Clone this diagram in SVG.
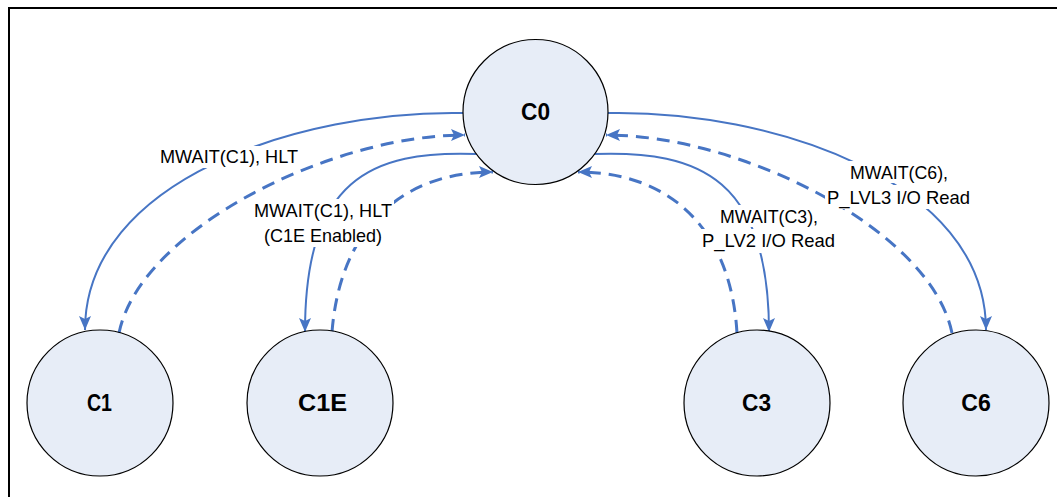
<svg xmlns="http://www.w3.org/2000/svg" width="1057" height="497" viewBox="0 0 1057 497">
<style>
.node{fill:#E7EDF7;stroke:#000;stroke-width:1.2}
.nl{font-family:"Liberation Sans",Arial,sans-serif;font-weight:bold;font-size:23px;text-anchor:middle;fill:#000}
.el{font-family:"Liberation Sans",Arial,sans-serif;font-size:19px;text-anchor:middle;fill:#000}
.s{fill:none;stroke:#4775C4;stroke-width:2;marker-end:url(#ah)}
.d{fill:none;stroke:#4775C4;stroke-width:3;stroke-dasharray:13 8;marker-end:url(#ah)}
.bg{fill:#fff}
</style>
<defs>
<marker id="ah" markerUnits="userSpaceOnUse" markerWidth="16" markerHeight="14" refX="14" refY="6" orient="auto">
<path d="M0,0 L14,6 L0,12 L3,6 Z" fill="#4775C4"/>
</marker>
</defs>
<rect x="0" y="0" width="1057" height="497" fill="#fff"/>
<path d="M9,497 L9,8 L1057,8" fill="none" stroke="#000" stroke-width="2"/>
<g id="connectors">
<path class="s" d="M463,113 C300,110 85,180 85,330"/>
<path class="d" d="M119,333 C140,230 330,135 465,135"/>
<path class="s" d="M477,154 C370,150 305,180 305,332"/>
<path class="d" d="M332,332 C340,230 400,172 493,172"/>
<path class="s" d="M594,154 C701,150 769,180 769,332"/>
<path class="d" d="M737,333 C731,230 671,172 578,172"/>
<path class="s" d="M608,113 C771,110 986,180 986,330"/>
<path class="d" d="M952,333 C931,230 741,135 606,135"/>
</g>
<g id="labels">
<rect class="bg" x="158" y="146" width="142" height="22"/>
<text class="el" x="229" y="163" textLength="138" lengthAdjust="spacingAndGlyphs">MWAIT(C1), HLT</text>
<rect class="bg" x="252" y="199" width="142" height="48"/>
<text class="el" x="323" y="217" textLength="138" lengthAdjust="spacingAndGlyphs">MWAIT(C1), HLT</text>
<text class="el" x="323" y="242" textLength="118" lengthAdjust="spacingAndGlyphs">(C1E Enabled)</text>
<rect class="bg" x="718" y="205" width="102" height="22"/>
<rect class="bg" x="700" y="229" width="137" height="24"/>
<text class="el" x="769" y="223" textLength="98" lengthAdjust="spacingAndGlyphs">MWAIT(C3),</text>
<text class="el" x="768.5" y="247" textLength="133" lengthAdjust="spacingAndGlyphs">P_LV2  I/O Read</text>
<rect class="bg" x="848" y="161" width="102" height="22"/>
<rect class="bg" x="825" y="185" width="147" height="24"/>
<text class="el" x="899" y="179" textLength="98" lengthAdjust="spacingAndGlyphs">MWAIT(C6),</text>
<text class="el" x="898.5" y="204" textLength="143" lengthAdjust="spacingAndGlyphs">P_LVL3  I/O Read</text>
</g>
<g id="C0"><circle class="node" cx="535.5" cy="112" r="72.5"/><text class="nl" x="535.5" y="120" textLength="29" lengthAdjust="spacingAndGlyphs">C0</text></g>
<g id="C1"><circle class="node" cx="100" cy="403" r="73"/><text class="nl" x="99.5" y="411" textLength="25" lengthAdjust="spacingAndGlyphs">C1</text></g>
<g id="C1E"><circle class="node" cx="320" cy="403" r="73"/><text class="nl" x="322.5" y="411" textLength="49" lengthAdjust="spacingAndGlyphs">C1E</text></g>
<g id="C3"><circle class="node" cx="757" cy="403" r="73"/><text class="nl" x="756.5" y="411" textLength="29" lengthAdjust="spacingAndGlyphs">C3</text></g>
<g id="C6"><circle class="node" cx="976" cy="403" r="73"/><text class="nl" x="976" y="411" textLength="29.5" lengthAdjust="spacingAndGlyphs">C6</text></g>
</svg>
